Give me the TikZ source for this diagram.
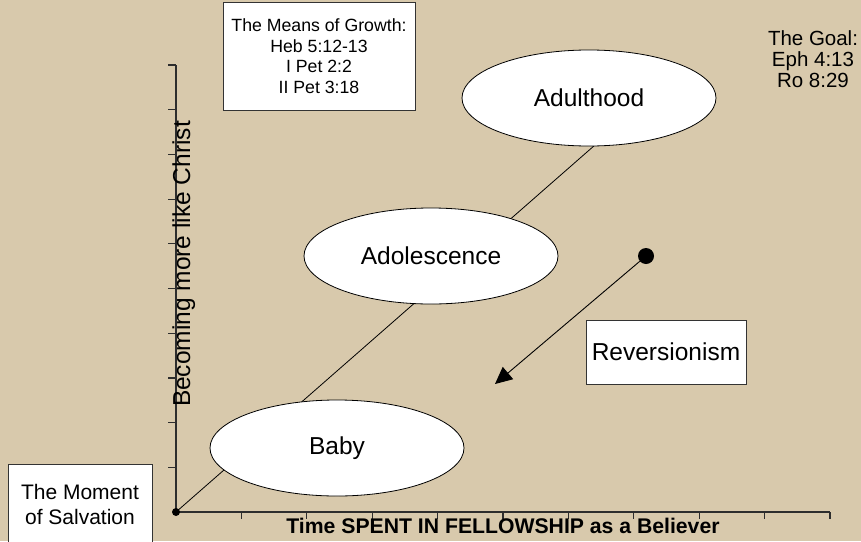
\documentclass[tikz,border=0pt]{standalone}
\usepackage{fontspec}
\setmainfont{Liberation Sans}
\usetikzlibrary{shapes.geometric,arrows.meta}
\definecolor{parch}{RGB}{216,201,172}
\definecolor{axisgray}{RGB}{45,45,45}
\begin{document}
\begin{tikzpicture}[x=1pt,y=-1pt,
  stage/.style={ellipse,draw=black,line width=0.8pt,fill=white,minimum width=254pt,minimum height=96pt,inner sep=0pt,font=\fontsize{24.5}{28}\selectfont},
  wbox/.style={draw=black!80,line width=0.8pt,fill=white,inner sep=0pt,align=center},
  axisline/.style={axisgray,line width=1.5pt},
  tickmark/.style={axisgray,line width=1.2pt},
  bigdot/.style={circle,fill=black,inner sep=0pt},
]
\fill[parch] (0,0) rectangle (861,541);
\useasboundingbox (0,0) rectangle (861,541);

\coordinate (O) at (176,512);
\coordinate (ytop) at (176,65);
\coordinate (xend) at (830,512);
\coordinate (lineend) at (595,145);

% diagonal growth line
\draw[line width=0.8pt] (O) -- (lineend);

% axes and ticks
\draw[axisline] (ytop) -- (O) -- (xend);
\foreach \i in {0,...,9} {
  \draw[tickmark] (168,{65+44.7*\i}) -- (176,{65+44.7*\i});
}
\foreach \i in {1,...,10} {
  \draw[tickmark] ({176+65.4*\i},512) -- ({176+65.4*\i},519);
}
\node[bigdot,minimum size=8pt] (odot) at (O) {};

% stages
\node[stage] (adult) at (589,98) {Adulthood};
\node[stage] (adol) at (431,256) {Adolescence};
\node[stage] (baby) at (337,448) {Baby};

% boxes
\node[wbox,minimum width=192pt,minimum height=108pt,font=\fontsize{17.7}{20.5}\selectfont] (means) at (319,56)
  {The Means of Growth:\\Heb 5:12-13\\I Pet 2:2\\II Pet 3:18};
\node[wbox,minimum width=144pt,minimum height=80pt,anchor=north,font=\fontsize{21}{25}\selectfont] (moment) at (80,464)
  {The Moment\\of Salvation};
\node[wbox,minimum width=160pt,minimum height=64pt,font=\fontsize{24.5}{28}\selectfont] (rev) at (666,352) {Reversionism};

\node[align=center,inner sep=0pt,font=\fontsize{20.5}{21}\selectfont] (goal) at (813,59)
  {The Goal:\\Eph 4:13\\Ro 8:29};

% reversion arrow
\node[bigdot,minimum size=16pt] (dot) at (646,256) {};
\coordinate (tip) at (495,384);
\draw[line width=0.9pt,-{Triangle[length=17pt,width=16pt]}] (dot) -- (tip);

% axis labels
\node[rotate=90,anchor=base,inner sep=0pt,font=\fontsize{24.5}{28}\selectfont] (ylab) at (190,264) {Becoming more like Christ};
\node[anchor=base,inner sep=0pt,font=\bfseries\fontsize{21.2}{24}\selectfont] (xlab) at (503,533) {Time SPENT IN FELLOWSHIP as a Believer};
\end{tikzpicture}
\end{document}
